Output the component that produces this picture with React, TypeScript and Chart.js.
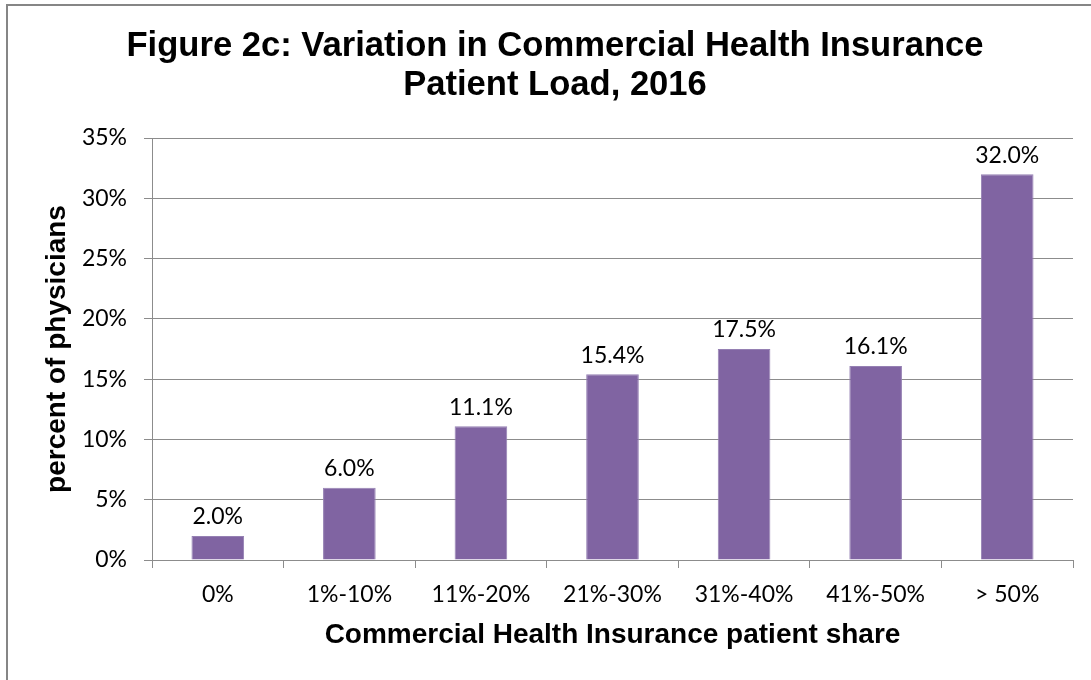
import React, { useEffect, useRef } from 'react';
import { Chart, registerables } from 'chart.js';

Chart.register(...registerables);

const categories = ['0%', '1%-10%', '11%-20%', '21%-30%', '31%-40%', '41%-50%', '> 50%'];
const values = [2.0, 6.0, 11.1, 15.4, 17.5, 16.1, 32.0];
const titleLines = ['Figure 2c: Variation in Commercial Health Insurance', 'Patient Load, 2016'];
const yTitle = 'percent of physicians';
const xTitle = 'Commercial Health Insurance patient share';
const yMin = 0;
const yMax = 35;
const yStep = 5;

const GRID = '#8c8c8c';
const BAR = '#8064A2';
const TICK_FONT = 'Lato';
const TITLE_FONT = '"Liberation Sans", Arial, sans-serif';

const valueLabels = {
  id: 'valueLabels',
  afterDatasetsDraw(chart: any) {
    const ctx = chart.ctx;
    const meta = chart.getDatasetMeta(0);
    ctx.save();
    ctx.font = `23px ${TICK_FONT}`;
    ctx.fillStyle = '#000';
    ctx.textAlign = 'center';
    ctx.textBaseline = 'middle';
    meta.data.forEach((bar: any, i: number) => {
      ctx.fillText(values[i].toFixed(1) + '%', bar.x, bar.y - 19);
    });
    ctx.restore();
  },
};

const chartTitle = {
  id: 'chartTitle',
  afterDraw(chart: any) {
    const ctx = chart.ctx;
    ctx.save();
    ctx.font = `bold 34.6px ${TITLE_FONT}`;
    ctx.fillStyle = '#000';
    ctx.textAlign = 'center';
    ctx.textBaseline = 'middle';
    titleLines.forEach((line, i) => {
      ctx.fillText(line, 555, 46 + i * 39);
    });
    ctx.restore();
  },
};

export default function App() {
  const ref = useRef<HTMLCanvasElement | null>(null);

  useEffect(() => {
    if (!ref.current) return;
    const chart = new Chart(ref.current, {
      type: 'bar',
      data: {
        labels: categories,
        datasets: [
          {
            data: values,
            backgroundColor: BAR,
            borderColor: '#9580b3',
            borderWidth: 1,
            categoryPercentage: 1,
            barPercentage: 0.4,
          },
        ],
      },
      options: {
        animation: false,
        responsive: false,
        devicePixelRatio: 1,
        layout: { padding: { left: 0, right: 18, top: 138, bottom: 0 } },
        plugins: {
          legend: { display: false },
          tooltip: { enabled: false },
          title: { display: false },
        },
        scales: {
          x: {
            afterFit: (scale: any) => {
              scale.height = 120;
            },
            grid: {
              display: true,
              drawOnChartArea: false,
              drawTicks: true,
              tickLength: 8,
              color: GRID,
              offset: true,
            },
            border: { display: true, color: GRID, width: 1 },
            ticks: {
              color: '#000',
              font: { family: TICK_FONT, size: 23 },
              padding: 13,
              maxRotation: 0,
            },
            title: {
              display: true,
              text: xTitle,
              color: '#000',
              font: { family: TITLE_FONT, size: 28, weight: 'bold', lineHeight: 1.2 },
              padding: { top: 0, bottom: 28 },
            },
          },
          y: {
            min: yMin,
            max: yMax,
            afterFit: (scale: any) => {
              scale.width = 152;
            },
            grid: {
              color: GRID,
              tickLength: 8,
              drawTicks: true,
            },
            border: { display: true, color: GRID, width: 1 },
            ticks: {
              stepSize: yStep,
              color: '#000',
              font: { family: TICK_FONT, size: 23 },
              padding: 17,
              callback: (v: any) => v + '%',
            },
            title: {
              display: true,
              text: yTitle,
              color: '#000',
              font: { family: TITLE_FONT, size: 28, weight: 'bold', lineHeight: 1.2 },
              padding: { top: 40, bottom: 0 },
            },
          },
        },
      },
      plugins: [valueLabels, chartTitle],
    } as any);
    return () => chart.destroy();
  }, []);

  return (
    <div style={{ position: 'fixed', left: 0, top: 0, width: 1091, height: 680, overflow: 'hidden', background: '#fff' }}>
      <div
        style={{
          position: 'absolute',
          left: 6,
          top: 4,
          width: 1300,
          height: 900,
          border: '2px solid #868686',
        }}
      />
      <canvas ref={ref} width={1091} height={680} style={{ position: 'absolute', left: 0, top: 0, width: 1091, height: 680 }} />
    </div>
  );
}
